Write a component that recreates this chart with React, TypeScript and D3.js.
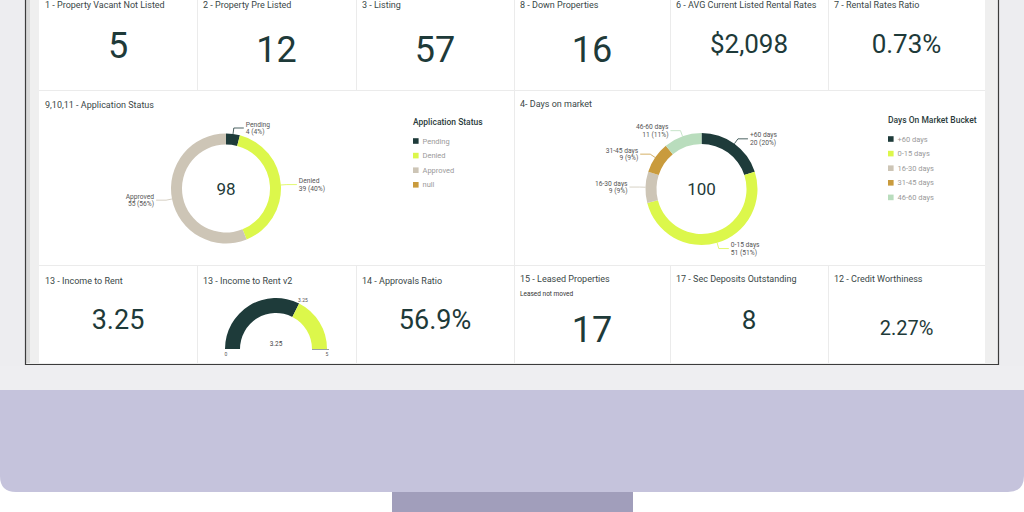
import * as d3 from "d3";
import React from "react";

// KPI tiles, top row
const topTitles = [
  "1 - Property Vacant Not Listed",
  "2 - Property Pre Listed",
  "3 - Listing",
  "8 - Down Properties",
  "6 - AVG Current Listed Rental Rates",
  "7 -  Rental Rates Ratio",
];
const topValues = ["5", "12", "57", "16", "$2,098", "0.73%"];

// KPI tiles, bottom row (the second one is the gauge)
const bottomTitles = [
  "13 - Income to Rent",
  "13 - Income to Rent v2",
  "14 - Approvals Ratio",
  "15 - Leased Properties",
  "17 - Sec Deposits Outstanding",
  "12 - Credit Worthiness",
];
const bottomValues = ["3.25", "", "56.9%", "17", "8", "2.27%"];

// donuts
const appStatus = ["Pending", "Denied", "Approved", "null"];
const appCounts = [4, 39, 55, 0];
const dayBuckets = ["+60 days", "0-15 days", "16-30 days", "31-45 days", "46-60 days"];
const dayCounts = [20, 51, 9, 9, 11];

// gauge
const incomeToRent = 3.25;
const gaugeMin = 0;
const gaugeMax = 5;

// layout / style
const W = 1024;
const H = 512;
const colX = [39, 197, 356, 514, 670, 828, 985];
const topSize = [36, 36, 36, 36, 26, 26];
const topY = [46, 50, 50, 50, 44, 44];
const bottomSize = [27, 0, 27, 36, 26, 20];
const bottomY = [320, 0, 320, 330, 320, 328];

const FONT = "Roboto, 'Liberation Sans', sans-serif";
const DARK = "#1e3a39";
const TITLE = "#3a4747";
const LIME = "#dcf74b";
const palette = ["#1e3b3a", LIME, "#cdc5b6", "#c99b3d", "#b9ddbd"];
const GRID = "#ebebeb";

function Donut(props: {
  cx: number;
  cy: number;
  r0: number;
  r1: number;
  names: string[];
  values: number[];
}) {
  const { cx, cy, r0, r1, names, values } = props;
  const total = d3.sum(values);
  const pie = d3.pie<number>().sort(null).value(d => d)(values);
  const arc = d3.arc<d3.PieArcDatum<number>>().innerRadius(r0).outerRadius(r1);
  return (
    <g>
      <g transform={`translate(${cx},${cy})`}>
        {pie.map((p, i) =>
          p.value > 0 ? <path key={i} d={arc(p) || ""} fill={palette[i]} /> : null
        )}
        <text
          textAnchor="middle"
          dominantBaseline="central"
          fontSize={17}
          fill={DARK}
          fontFamily={FONT}
        >
          {total}
        </text>
      </g>
      {pie.map((p, i) => {
        if (p.value <= 0) return null;
        const mid = (p.startAngle + p.endAngle) / 2;
        const s = Math.sin(mid);
        const c = Math.cos(mid);
        const x0 = cx + r1 * s;
        const y0 = cy - r1 * c;
        const x1 = cx + (r1 + 6) * s;
        const y1 = cy - (r1 + 6) * c;
        const side = s >= 0 ? 1 : -1;
        const x2 = x1 + side * 10;
        const pct = Math.round((p.value / total) * 100);
        return (
          <g key={"l" + i}>
            <polyline
              points={`${x0},${y0} ${x1},${y1} ${x2},${y1}`}
              fill="none"
              stroke={palette[i]}
              strokeWidth={0.8}
            />
            <text
              x={x2 + side * 2}
              y={y1}
              textAnchor={side > 0 ? "start" : "end"}
              fontSize={6.7}
              fill="#555"
              fontFamily={FONT}
            >
              <tspan x={x2 + side * 2} dy={-1.5}>
                {names[i]}
              </tspan>
              <tspan x={x2 + side * 2} dy={7.5}>
                {`${p.value} (${pct}%)`}
              </tspan>
            </text>
          </g>
        );
      })}
    </g>
  );
}

function Legend(props: { x: number; y: number; title: string; names: string[] }) {
  const { x, y, title, names } = props;
  return (
    <g fontFamily={FONT}>
      <text x={x} y={y} fontSize={8.5} fontWeight={500} fill="#2c3c3c" dominantBaseline="central">
        {title}
      </text>
      {names.map((n, i) => (
        <g key={n} transform={`translate(${x},${y + 19 + i * 14.6})`}>
          <rect x={0} y={-2.8} width={5.6} height={5.6} fill={palette[i]} />
          <text x={9.5} y={0} fontSize={7.5} fill="#9a9a9a" dominantBaseline="central">
            {n}
          </text>
        </g>
      ))}
    </g>
  );
}

function Gauge(props: { cx: number; cy: number }) {
  const { cx, cy } = props;
  const a = d3.scaleLinear().domain([gaugeMin, gaugeMax]).range([-Math.PI / 2, Math.PI / 2]);
  const arc = d3.arc();
  const va = a(incomeToRent);
  const lx = cx + 55 * Math.sin(va);
  const ly = cy - 55 * Math.cos(va);
  return (
    <g fontFamily={FONT}>
      <path
        d={arc({ innerRadius: 36, outerRadius: 51, startAngle: a(gaugeMin), endAngle: va }) || ""}
        transform={`translate(${cx},${cy})`}
        fill={palette[0]}
      />
      <path
        d={arc({ innerRadius: 36, outerRadius: 51, startAngle: va, endAngle: a(gaugeMax) }) || ""}
        transform={`translate(${cx},${cy})`}
        fill={LIME}
      />
      <line x1={cx + 36} x2={cx + 53} y1={cy + 0.5} y2={cy + 0.5} stroke="#9aa4a4" strokeWidth={1} />
      <text x={lx + 2} y={ly + 2} fontSize={5} fill="#555" textAnchor="middle">
        {incomeToRent}
      </text>
      <text x={cx} y={cy - 3} fontSize={6.5} fill="#444" textAnchor="middle">
        {incomeToRent}
      </text>
      <text x={cx - 50} y={cy + 7} fontSize={5} fill="#555" textAnchor="middle">
        {gaugeMin}
      </text>
      <text x={cx + 51} y={cy + 7} fontSize={5} fill="#555" textAnchor="middle">
        {gaugeMax}
      </text>
    </g>
  );
}

export default function App() {
  return (
    <div style={{ position: "fixed", left: 0, top: 0, width: W, height: H, background: "#fff" }}>
      <svg width={W} height={H} style={{ display: "block" }}>
        {/* monitor bezel */}
        <rect x={0} y={0} width={W} height={392} fill="#ededf0" />
        <rect x={0} y={366} width={W} height={26} fill="#eeeef1" />
        {/* chin */}
        <path d={`M0,390 H${W} V476 Q${W},492 ${W - 16},492 H16 Q0,492 0,476 Z`} fill="#c5c3dc" />
        {/* stand */}
        <rect x={392} y={492} width={241} height={20} fill="#a19ebb" />

        {/* screen */}
        <rect x={25} y={0} width={973} height={364} fill="#efefef" />
        <rect x={26} y={0} width={4} height={363} fill="#dadada" />
        <rect x={colX[0]} y={0} width={colX[6] - colX[0]} height={363} fill="#fff" />
        <line x1={25.5} x2={25.5} y1={0} y2={365} stroke="#3c3c3c" strokeWidth={1.2} />
        <line x1={998.5} x2={998.5} y1={0} y2={365} stroke="#3c3c3c" strokeWidth={1.2} />
        <line x1={25} x2={999} y1={364.5} y2={364.5} stroke="#3c3c3c" strokeWidth={1.2} />

        {/* grid lines */}
        <g stroke={GRID} strokeWidth={1}>
          <line x1={colX[0]} x2={colX[6]} y1={90.5} y2={90.5} />
          <line x1={colX[0]} x2={colX[6]} y1={265.5} y2={265.5} />
          {colX.slice(1, 6).map(x => (
            <line key={"t" + x} x1={x + 0.5} x2={x + 0.5} y1={0} y2={90} />
          ))}
          {colX.slice(1, 6).map(x => (
            <line key={"b" + x} x1={x + 0.5} x2={x + 0.5} y1={266} y2={363} />
          ))}
          <line x1={514.5} x2={514.5} y1={91} y2={265} />
        </g>

        {/* top row */}
        <g fontFamily={FONT}>
          {topTitles.map((t, i) => (
            <g key={t}>
              <text x={colX[i] + 6} y={8} fontSize={9} fill={TITLE}>
                {t}
              </text>
              <text
                x={(colX[i] + colX[i + 1]) / 2}
                y={topY[i]}
                fontSize={topSize[i]}
                fill={DARK}
                textAnchor="middle"
                dominantBaseline="central"
              >
                {topValues[i]}
              </text>
            </g>
          ))}
        </g>

        {/* middle row */}
        <g fontFamily={FONT}>
          <text x={45} y={108} fontSize={9} fill={TITLE}>
            9,10,11 - Application Status
          </text>
          <text x={520} y={107} fontSize={9} fill={TITLE}>
            4- Days on market
          </text>
        </g>
        <Donut cx={226} cy={188.5} r0={44} r1={55} names={appStatus} values={appCounts} />
        <Legend x={413} y={122} title="Application Status" names={appStatus} />
        <Donut cx={701.5} cy={189} r0={45} r1={56} names={dayBuckets} values={dayCounts} />
        <Legend x={888} y={120} title="Days On Market Bucket" names={dayBuckets} />

        {/* bottom row */}
        <g fontFamily={FONT}>
          {bottomTitles.map((t, i) => (
            <g key={t}>
              <text x={colX[i] + 6} y={i < 3 ? 284 : 282} fontSize={9} fill={TITLE}>
                {t}
              </text>
              {bottomValues[i] ? (
                <text
                  x={(colX[i] + colX[i + 1]) / 2}
                  y={bottomY[i]}
                  fontSize={bottomSize[i]}
                  fill={DARK}
                  textAnchor="middle"
                  dominantBaseline="central"
                >
                  {bottomValues[i]}
                </text>
              ) : null}
            </g>
          ))}
          <text x={520} y={296} fontSize={6.5} fill="#333">
            Leased not moved
          </text>
        </g>
        <Gauge cx={276} cy={349} />
      </svg>
    </div>
  );
}
